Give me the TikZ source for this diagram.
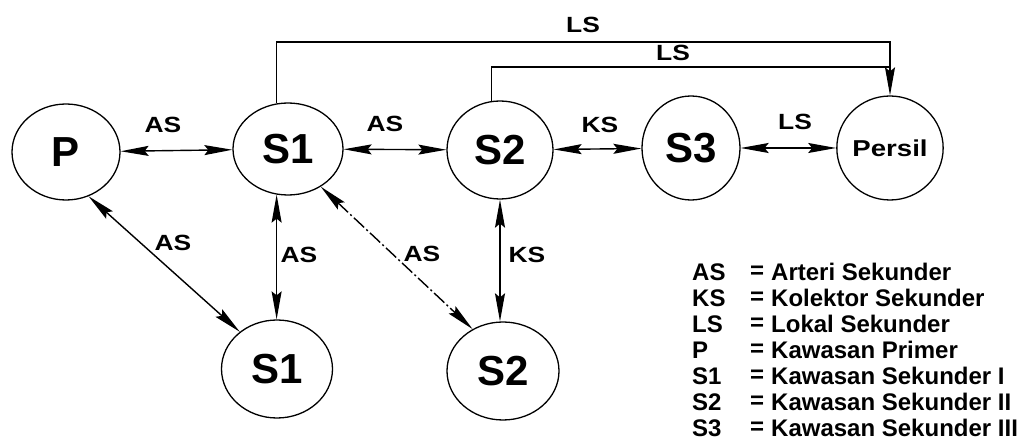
\documentclass[tikz,border=0pt]{standalone}
\usepackage{fontspec}
\setmainfont{Liberation Sans}
\newfontfamily\lblfont{Liberation Sans}[FakeStretch=1.2]
\usetikzlibrary{arrows.meta,shapes.geometric,calc}
\begin{document}
\begin{tikzpicture}[x=1pt,y=-1pt,
  place/.style={ellipse,draw,line width=1.3pt,inner sep=0pt,
    font=\fontsize{42}{42}\selectfont\bfseries},
  link/.style={line width=1.4pt,{Stealth[length=28pt,width=10pt,inset=4pt]}-{Stealth[length=28pt,width=10pt,inset=4pt]}},
  oneway/.style={line width=1.1pt,-{Stealth[length=28pt,width=10pt,inset=4pt]}},
  lbl/.style={font=\lblfont\fontsize{22}{22}\selectfont\bfseries,inner sep=0pt},
  leg/.style={font=\fontsize{24}{24}\selectfont\bfseries,anchor=west,inner sep=0pt}]
\useasboundingbox (0,0) rectangle (1023,443);

% places
\node[place,minimum width=108pt,minimum height=96pt] (P) at (66,152) {P};
\node[place,minimum width=110pt,minimum height=92pt] (S1a) at (288,149) {S1};
\node[place,minimum width=106pt,minimum height=98pt] (S2a) at (500,150) {S2};
\node[place,minimum width=98pt,minimum height=104pt] (S3) at (691,148) {S3};
\node[place,minimum width=100pt,minimum height=104pt,
  font=\lblfont\fontsize{23}{23}\selectfont\bfseries] (Persil) at (890,148) {Persil};
\node[place,minimum width=111pt,minimum height=98pt] (S1b) at (277,369) {S1};
\node[place,minimum width=112pt,minimum height=98pt] (S2b) at (503,371) {S2};

% horizontal links
\draw[link] (P) -- (S1a);
\draw[link] (S1a) -- (S2a);
\draw[link] (S2a) -- (S3);
\draw[link] (S3) -- (Persil);
\node[lbl] (l1) at (163,125) {AS};
\node[lbl] (l2) at (385,124) {AS};
\node[lbl] (l3) at (600,125) {KS};
\node[lbl] (l4) at (795,122) {LS};

% lower links
\draw[link] (P.-63) -- (S1b.135);
\draw[link] (S1a.-104) -- (S1a.-104 |- S1b.north);
\draw[link,dash pattern=on 14pt off 3pt on 2pt off 3pt] (S1a.-49) -- (S2b.126);
\draw[link] (S2a.south) -- (S2a.south |- S2b.north);
\node[lbl] (l5) at (173,243) {AS};
\node[lbl] (l6) at (299,255) {AS};
\node[lbl] (l7) at (422,254) {AS};
\node[lbl] (l8) at (527,255) {KS};

% LS lines to Persil
\coordinate (top1) at (600,42);
\coordinate (top2) at (890,67);
\draw[oneway] (S1a.104) |- (top1) -| (Persil.north);
\draw[line width=1.1pt] (S2a.100) |- (top2);
\node[lbl] (l9) at (583,25) {LS};
\node[lbl] (l10) at (673,53) {LS};

% legend
\foreach \i/\a/\b in {0/AS/Arteri Sekunder,1/KS/Kolektor Sekunder,2/LS/Lokal Sekunder,
  3/P/Kawasan Primer,4/S1/Kawasan Sekunder I,5/S2/Kawasan Sekunder II,6/S3/Kawasan Sekunder III}{
  \node[leg] (ka\i) at (692,272+26*\i) {\a};
  \node[leg,anchor=center] (ke\i) at (757,272+26*\i) {=};
  \node[leg] (kb\i) at (771,272+26*\i) {\b};
}
\end{tikzpicture}
\end{document}
